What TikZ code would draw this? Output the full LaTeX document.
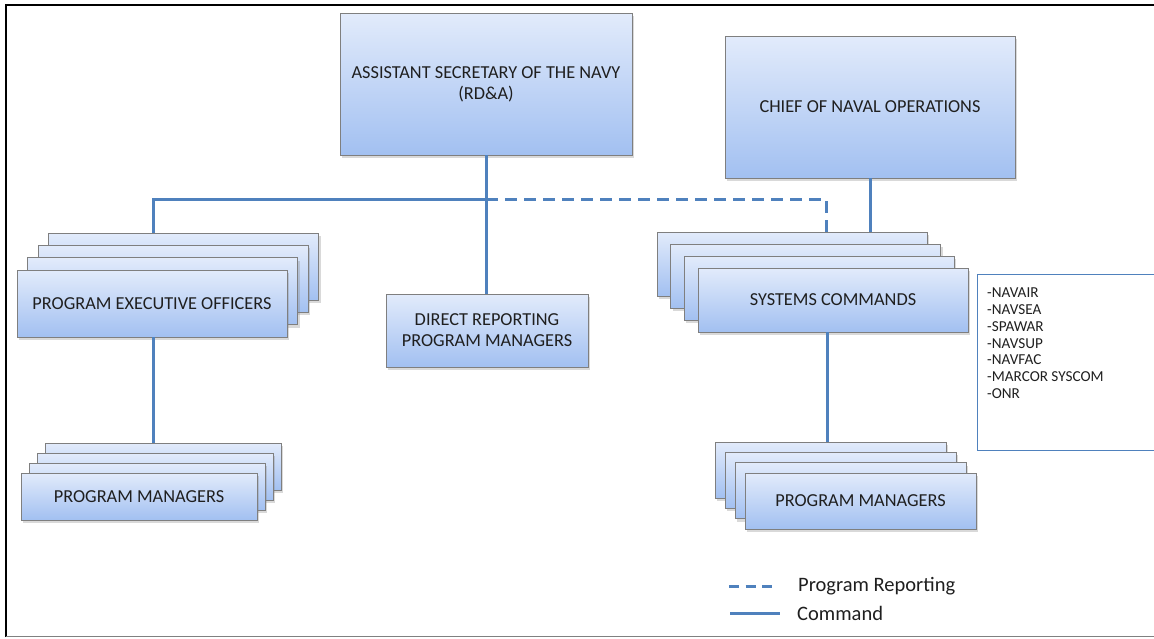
\documentclass[tikz,border=0pt]{standalone}
\usepackage{fontspec}
\setmainfont{Carlito}
\usetikzlibrary{shadows,calc}
\definecolor{boxtop}{HTML}{E2EBFB}
\definecolor{boxbot}{HTML}{A2C0F1}
\definecolor{boxedge}{HTML}{7F7F7F}
\definecolor{linkblue}{HTML}{4F81BD}
\definecolor{txt}{HTML}{1F1F1F}
\begin{document}
\begin{tikzpicture}[x=1pt,y=-1pt,
  box/.style={draw=boxedge, line width=0.8pt, top color=boxtop, bottom color=boxbot,
    inner sep=2pt, align=center, text=txt, font=\fontsize{18.3}{21}\selectfont,
    drop shadow={shadow xshift=2pt, shadow yshift=-3pt, opacity=0.3}},
  link/.style={draw=linkblue, line width=3pt},
  dlink/.style={link, dash pattern=on 12pt off 7pt},
  legtxt/.style={anchor=west, text=txt, font=\fontsize{20.5}{23}\selectfont, inner sep=0pt}
]
\useasboundingbox (0,0) rectangle (1154,638);
% frame
\draw[black, line width=2.2pt] (6,637) -- (6,5) -- (1154,5);
\draw[gray, line width=1.5pt] (6,636.5) -- (1154,636.5);

% top boxes
\node[box, minimum width=292pt, minimum height=142pt] (asn) at (486,84)
  {ASSISTANT SECRETARY OF THE NAVY\\(RD\&A)};
\node[box, minimum width=290pt, minimum height=142pt] (cno) at (870,107)
  {CHIEF OF NAVAL OPERATIONS};

% PEO stack
\node[box, minimum width=270pt, minimum height=67pt] (peo4) at (183.5,266.6) {};
\node[box, minimum width=270pt, minimum height=67pt] (peo3) at (173,278.9) {};
\node[box, minimum width=270pt, minimum height=67pt] (peo2) at (162.5,291.2) {};
\node[box, minimum width=270pt, minimum height=67pt] (peo1) at (152,303.5) {PROGRAM EXECUTIVE OFFICERS};

% left PM stack
\node[box, minimum width=236pt, minimum height=47pt] (pml4) at (163,466.5) {};
\node[box, minimum width=236pt, minimum height=47pt] (pml3) at (155,476.5) {};
\node[box, minimum width=236pt, minimum height=47pt] (pml2) at (147,486.5) {};
\node[box, minimum width=236pt, minimum height=47pt] (pml1) at (139,496.5) {PROGRAM MANAGERS};

% direct reporting
\node[box, minimum width=202pt, minimum height=73pt] (drpm) at (487,330.5)
  {DIRECT REPORTING\\PROGRAM MANAGERS};

% systems commands stack
\node[box, minimum width=270pt, minimum height=64pt] (sc4) at (792,264) {};
\node[box, minimum width=270pt, minimum height=64pt] (sc3) at (805.7,276) {};
\node[box, minimum width=270pt, minimum height=64pt] (sc2) at (819.4,288) {};
\node[box, minimum width=270pt, minimum height=64pt] (sc1) at (833,300) {SYSTEMS COMMANDS};

% right PM stack
\node[box, minimum width=231pt, minimum height=56pt] (pmr4) at (830.5,470) {};
\node[box, minimum width=231pt, minimum height=56pt] (pmr3) at (840.5,480.3) {};
\node[box, minimum width=231pt, minimum height=56pt] (pmr2) at (850.5,490.6) {};
\node[box, minimum width=231pt, minimum height=56pt] (pmr1) at (860.5,501) {PROGRAM MANAGERS};

% list box
\draw[linkblue, line width=1pt] (1160,274) -- (977,274) -- (977,450) -- (1160,450);
\node[anchor=north west, align=left, text=txt, inner sep=0pt,
  font=\fontsize{15.2}{16.7}\selectfont] (list) at (987,288)
  {-NAVAIR\\-NAVSEA\\-SPAWAR\\-NAVSUP\\-NAVFAC\\-MARCOR SYSCOM\\-ONR};

% connectors
\coordinate (jL) at (153,199);
\coordinate (jR) at (826,199);
\coordinate (scb) at ($(sc1.south)+(-6,0)$);
\draw[link] (asn.south) -- (asn.south |- drpm.north);
\draw[link] (asn.south |- jL) -- (jL) -- (jL |- peo4.north);
\draw[dlink] (asn.south |- jL) -- (jR) -- (jR |- sc4.north);
\draw[link] (cno.south) -- (cno.south |- sc4.north);
\draw[link] (jL |- peo1.south) -- (jL |- pml4.north);
\draw[link] (scb) -- (scb |- pmr4.north);

% legend
\coordinate (ld1) at (729,586);
\coordinate (ld2) at (777,586);
\coordinate (ls1) at (730,613);
\coordinate (ls2) at (780,613);
\draw[link, dash pattern=on 10pt off 6.5pt] (ld1) -- (ld2);
\draw[link] (ls1) -- (ls2);
\node[legtxt] (lgd) at (798,586) {Program Reporting};
\node[legtxt] (lgs) at (797,613) {Command};
\end{tikzpicture}
\end{document}
